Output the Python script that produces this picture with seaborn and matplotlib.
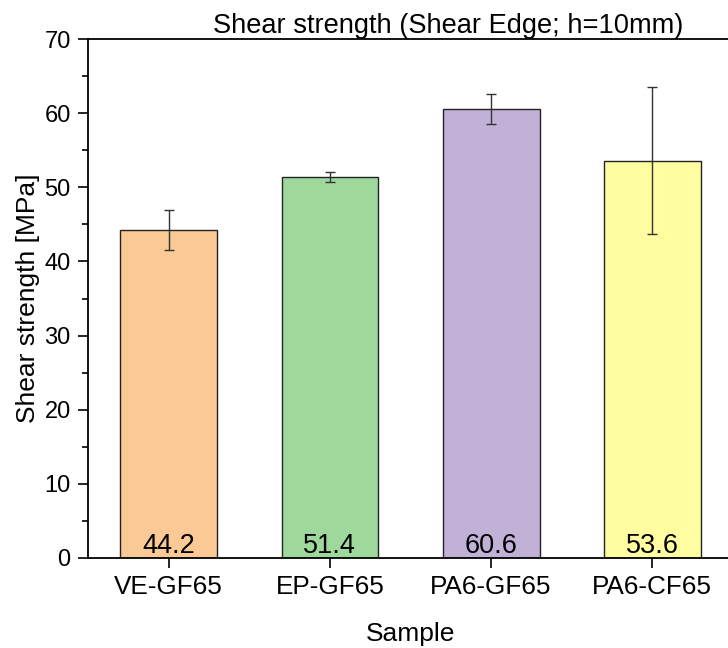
import pandas as pd
import matplotlib.pyplot as plt
import seaborn as sns

samples   = ["VE-GF65", "EP-GF65", "PA6-GF65", "PA6-CF65"]
strength  = [44.2, 51.4, 60.6, 53.6]
std_dev   = [2.7, 0.65, 2.0, 9.9]
bar_colors = ["#FBC995", "#9FD89D", "#C2B1D7", "#FFFDA0"]

df = pd.DataFrame({"Sample": samples, "Strength": strength})

sns.set_style("ticks")
plt.rcParams["font.family"] = ["Liberation Sans", "DejaVu Sans"]
plt.rcParams["text.color"] = "black"
plt.rcParams["axes.labelcolor"] = "black"
plt.rcParams["xtick.color"] = "black"
plt.rcParams["ytick.color"] = "black"

fig = plt.figure(figsize=(7.28, 6.48), dpi=100)
ax = fig.add_axes([88 / 728, 1 - 558 / 648, 645 / 728, 519 / 648])

sns.barplot(data=df, x="Sample", y="Strength", hue="Sample", palette=bar_colors,
            width=0.6, edgecolor="#222222", linewidth=1.0, legend=False,
            errorbar=None, ax=ax, saturation=1)

ax.errorbar(range(len(samples)), strength, yerr=std_dev, fmt="none",
            ecolor="#333333", elinewidth=1.0, capsize=3.6, capthick=1.0)

# value labels inside the bars, at the bottom
for i, v in enumerate(strength):
    ax.text(i, 0.7, f"{v:.1f}", ha="center", va="baseline", fontsize=19.5,
            color="black")

ax.set_xlim(-0.5, 3.5)
ax.set_ylim(0, 70)
ax.set_yticks(range(0, 71, 10))
ax.set_yticks(range(5, 70, 10), minor=True)

for side in ["left", "bottom", "top", "right"]:
    ax.spines[side].set_visible(True)
    ax.spines[side].set_linewidth(1.3)
    ax.spines[side].set_color("black")

ax.tick_params(axis="y", which="major", length=7, width=1.2, labelsize=17, pad=5.5)
ax.tick_params(axis="y", which="minor", length=4, width=1.2)
ax.tick_params(axis="x", which="major", length=7, width=1.2, labelsize=18.8, pad=5.5)

ax.set_xlabel("Sample", fontsize=19, labelpad=16)
ax.set_ylabel("Shear strength [MPa]", fontsize=19, labelpad=3)

fig.text(448.5 / 728, 1 - 33 / 648, "Shear strength (Shear Edge; h=10mm)",
         ha="center", va="baseline", fontsize=19.6)

fig.savefig("out.png", dpi=100)
